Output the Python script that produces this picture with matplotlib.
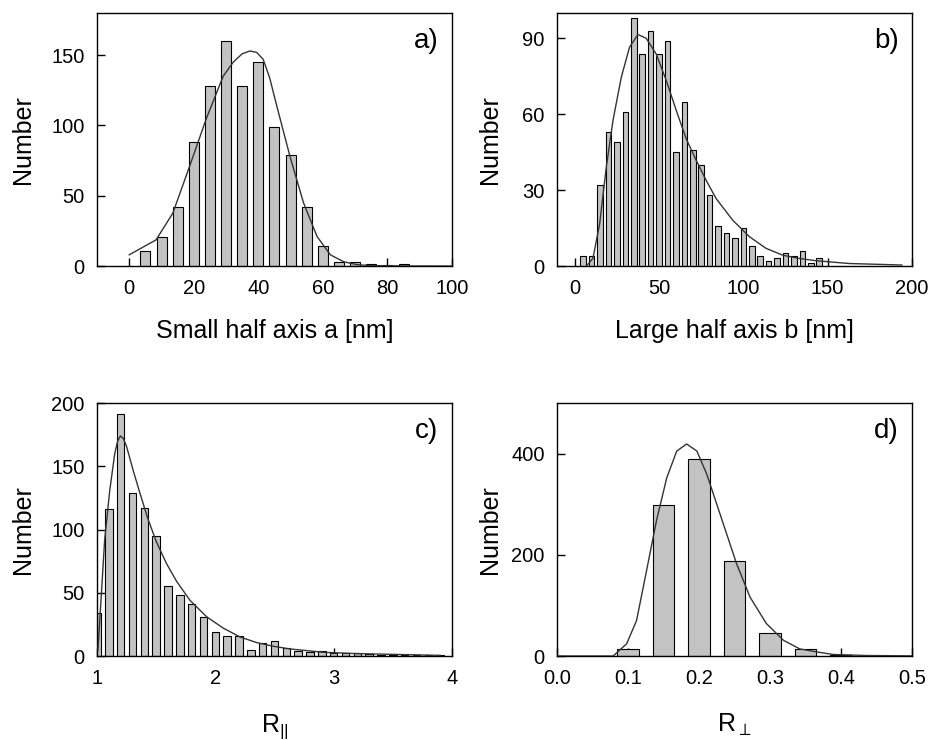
import matplotlib
matplotlib.use("Agg")
import matplotlib.pyplot as plt

plt.rcParams['font.family'] = ['Liberation Sans', 'DejaVu Sans']
plt.rcParams['mathtext.fontset'] = 'custom'
plt.rcParams['mathtext.rm'] = 'Liberation Sans'
plt.rcParams['mathtext.it'] = 'Liberation Sans'

# panel a: small half axis a [nm]
a_bins = [5, 10, 15, 20, 25, 30, 35, 40, 45, 50, 55, 60, 65, 70, 75, 80, 85]
a_counts = [11, 21, 42, 88, 128, 160, 128, 145, 99, 79, 42, 14, 3, 3, 1.5, 1, 1.5]
a_fit_x = [0, 8.3, 13.5, 18.7, 23.9, 29.1, 32.2, 35, 37.4, 39.5, 41.5, 43.5, 45.7, 49.8, 54,
           58.2, 62.3, 66.5, 70.6, 74.5, 85, 100]
a_fit_y = [8, 18.6, 37.6, 71, 105, 135, 145, 151, 153, 152, 147, 134, 114, 78, 45,
           21, 8, 3, 1, 0.3, 0.05, 0]

# panel b: large half axis b [nm]
b_bins = [5, 10, 15, 20, 25, 30, 35, 40, 45, 50, 55, 60, 65, 70, 75, 80, 85, 90, 95, 100,
          105, 110, 115, 120, 125, 130, 135, 140, 145]
b_counts = [4, 4, 32, 53, 49, 61, 98, 84, 93, 84, 89, 45, 65, 46, 40, 28, 16, 13, 11, 15,
            8, 4, 2, 3, 5, 4, 6, 1.3, 3]
b_fit_x = [6.9, 10.8, 14.8, 18.7, 22.7, 27.6, 32.5, 37.5, 42.4, 48.3, 54.3, 60.2, 66.1, 72,
           77.9, 83.8, 93.7, 103.6, 113.4, 123.3, 133.1, 143, 162.7, 194]
b_fit_y = [0, 3, 16.8, 39, 57.6, 74.6, 86.5, 91.5, 90, 83.8, 73.3, 61.5, 50.3, 41.8,
           33.9, 26.7, 18.1, 11.6, 7, 4.3, 3, 2.1, 1, 0.4]

# panel c: R parallel
c_bins = [1.0, 1.1, 1.2, 1.3, 1.4, 1.5, 1.6, 1.7, 1.8, 1.9, 2.0, 2.1, 2.2, 2.3, 2.4, 2.5,
          2.6, 2.7, 2.8, 2.9, 3.0, 3.1, 3.2, 3.3, 3.4, 3.5, 3.6, 3.7, 3.8, 3.9]
c_counts = [34, 116, 191, 129, 117, 95, 55, 48, 41, 31, 19, 16, 16, 5, 10, 12,
            6, 4, 3.4, 4, 2.4, 2.4, 2, 1.5, 1, 1, 1, 1, 1, 0.5]
c_fit_x = [1.008, 1.065, 1.108, 1.15, 1.175, 1.198, 1.222, 1.249, 1.305, 1.362, 1.432, 1.503,
           1.588, 1.673, 1.786, 1.927, 2.068, 2.21, 2.35, 2.49, 2.63, 2.915, 3.2, 3.9]
c_fit_y = [4.5, 92, 131, 160, 170, 174, 172, 166, 147, 129, 108, 90,
           73, 59, 44, 31, 22, 15, 10.6, 7.7, 5.6, 2.9, 1.9, 0.5]

# panel d: R perpendicular
d_bins = [0.10, 0.15, 0.20, 0.25, 0.30, 0.35, 0.40, 0.45]
d_counts = [14, 298, 390, 187, 45, 13, 2, 1]
d_fit_x = [0.0, 0.079, 0.098, 0.112, 0.126, 0.140, 0.1545, 0.1686, 0.1826, 0.197, 0.211, 0.225,
           0.239, 0.253, 0.272, 0.295, 0.319, 0.342, 0.366, 0.389, 0.436, 0.483, 0.5]
d_fit_y = [0, 0, 24, 70, 168, 267, 352, 405, 419, 405, 359, 300,
           241, 182, 116, 64, 31, 14, 8, 3, 1, 0.5, 0.3]

panels = [
    dict(pos=[0.1044, 0.6405, 0.3821, 0.3419], bins=a_bins, counts=a_counts, width=3.1,
         fx=a_fit_x, fy=a_fit_y, xlim=(-10, 100), ylim=(0, 180),
         xticks=[0, 20, 40, 60, 80, 100], yticks=[0, 50, 100, 150], xtl=None,
         xlabel="Small half axis a [nm]", letter="a)", ylx=-0.174, xly=-0.21),
    dict(pos=[0.5996, 0.6405, 0.3821, 0.3419], bins=b_bins, counts=b_counts, width=3.3,
         fx=b_fit_x, fy=b_fit_y, xlim=(-10.5, 200), ylim=(0, 100),
         xticks=[0, 50, 100, 150, 200], yticks=[0, 30, 60, 90], xtl=None,
         xlabel="Large half axis b [nm]", letter="b)", ylx=-0.155, xly=-0.21),
    dict(pos=[0.1044, 0.1135, 0.3821, 0.3419], bins=c_bins, counts=c_counts, width=0.063,
         fx=c_fit_x, fy=c_fit_y, xlim=(1, 4), ylim=(0, 200),
         xticks=[1, 2, 3, 4], yticks=[0, 50, 100, 150, 200], xtl=None,
         xlabel=r"R$_{||}$", letter="c)", ylx=-0.174, xly=-0.222),
    dict(pos=[0.5996, 0.1135, 0.3821, 0.3419], bins=d_bins, counts=d_counts, width=0.03,
         fx=d_fit_x, fy=d_fit_y, xlim=(0, 0.5), ylim=(0, 500),
         xticks=[0, 0.1, 0.2, 0.3, 0.4, 0.5], yticks=[0, 200, 400],
         xtl=["0.0", "0.1", "0.2", "0.3", "0.4", "0.5"],
         xlabel=r"R$_{\perp}$", letter="d)", ylx=-0.155, xly=-0.222),
]

fig = plt.figure(figsize=(9.29, 7.4), dpi=100)

for p in panels:
    ax = fig.add_axes(p["pos"])
    ax.bar(p["bins"], p["counts"], width=p["width"], color="#c3c3c3",
           edgecolor="black", linewidth=0.8, zorder=1)
    ax.plot(p["fx"], p["fy"], color="#333333", lw=1.0, zorder=3)
    ax.set_xlim(*p["xlim"])
    ax.set_ylim(*p["ylim"])
    ax.set_xticks(p["xticks"])
    if p["xtl"]:
        ax.set_xticklabels(p["xtl"])
    ax.set_yticks(p["yticks"])
    ax.set_axisbelow(True)
    ax.tick_params(direction="in", length=5.5, width=1, labelsize=14.5, pad=9)
    for s in ax.spines.values():
        s.set_linewidth(1)
    ax.set_ylabel("Number", fontsize=18)
    ax.yaxis.set_label_coords(p["ylx"], 0.5)
    ax.set_xlabel(p["xlabel"], fontsize=18)
    ax.xaxis.set_label_coords(0.5, p["xly"])
    ax.text(0.962, 0.89, p["letter"], transform=ax.transAxes, ha="right", va="center",
            fontsize=20)

fig.savefig("out.png", dpi=100)
